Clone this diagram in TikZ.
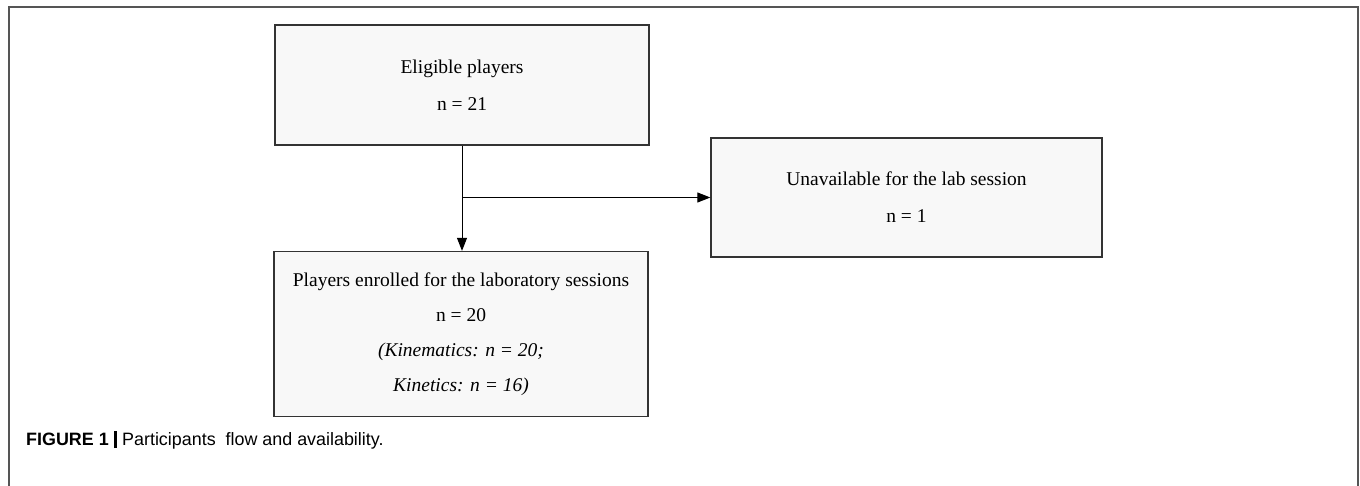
\documentclass[tikz,border=0pt]{standalone}
\usepackage{fontspec}
\setmainfont{Liberation Serif}
\newfontfamily\capfont{Liberation Sans}
\usetikzlibrary{arrows.meta,positioning}
\definecolor{boxfill}{RGB}{248,248,248}
\definecolor{framecol}{RGB}{85,85,85}
\tikzset{
  flowbox/.style={draw=black!80, line width=1.3pt, fill=boxfill, inner sep=0pt,
    align=center, font=\fontsize{19.5}{37}\selectfont},
  conn/.style={line width=1pt, black},
  arr/.style={conn, -{Triangle[length=13pt,width=10pt]}}
}
\begin{document}
\begin{tikzpicture}[x=1pt,y=-1pt]
\useasboundingbox (0,0) rectangle (1360,486);
% outer frame (open at the bottom)
\draw[framecol, line width=2pt] (8.5,486) -- (8.5,7.5) -- (1357.5,7.5) -- (1357.5,486);

\node[flowbox, minimum width=374pt, minimum height=120pt, text depth=0pt] (elig) at (462,85)
  {\raisebox{4pt}{}Eligible players\\n = 21\rule{0pt}{0pt}};
\node[flowbox, minimum width=391pt, minimum height=119pt] (unav) at (906.5,197.5)
  {Unavailable for the lab session\\n = 1};
\node[flowbox, minimum width=374pt, minimum height=165pt,
  font=\fontsize{19.5}{35}\selectfont] (enr) at (461,334)
  {Players enrolled for the laboratory sessions\\n = 20\\\textit{(Kinematics: n = 20;}\\\textit{Kinetics: n = 16)}};

\coordinate (j) at (elig.south |- unav.west);
\draw[arr] (elig.south) -- (elig.south |- enr.north);
\draw[arr] (j) -- (unav.west);

\node[anchor=base west, inner sep=0pt, font=\capfont\fontsize{17.9}{20}\selectfont] (cap) at (26,445)
  {\textbf{FIGURE 1} \rule[-3pt]{3.5pt}{17pt} Participants\ \ flow and availability.};
\end{tikzpicture}
\end{document}
